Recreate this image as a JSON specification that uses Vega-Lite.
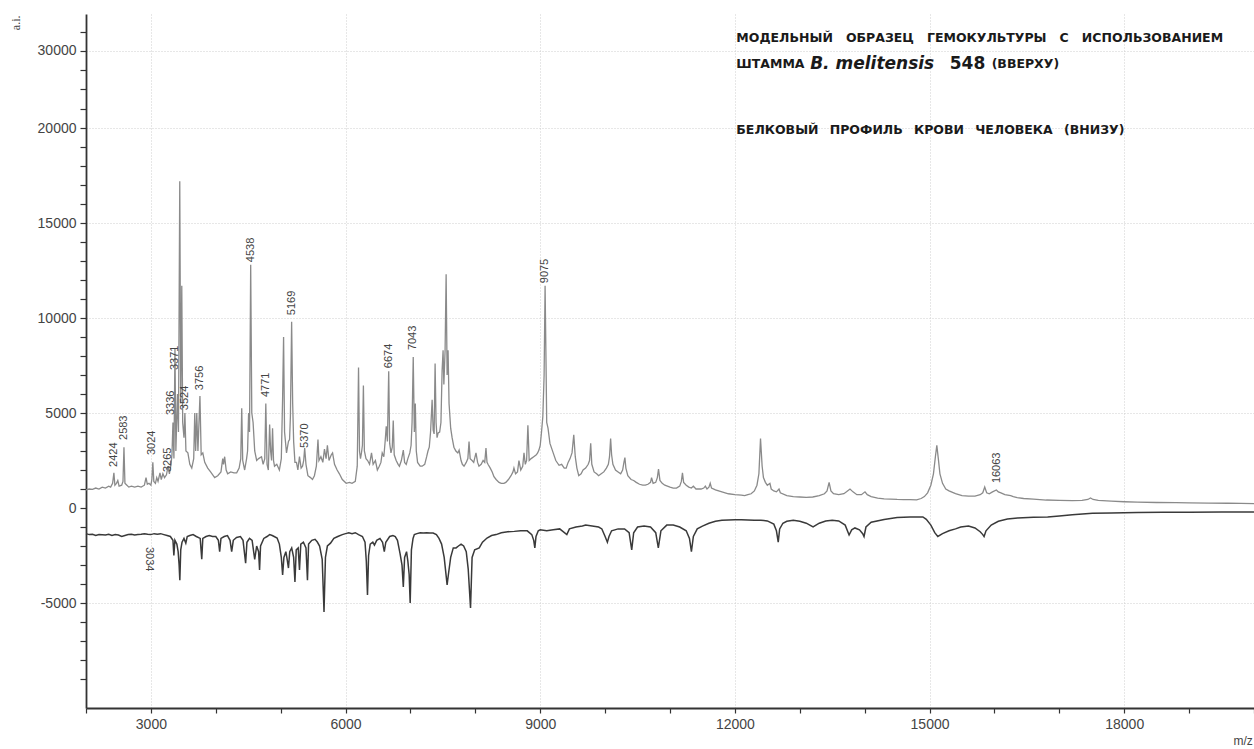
{
"$schema": "https://vega.github.io/schema/vega-lite/v6.json",
"width": 1168, "height": 694,
"autosize": {"type": "none"},
"padding": {"left": 86, "top": 14, "right": 0, "bottom": 41},
"background": "white",
"config": {"view": {"stroke": null}, "font": "Liberation Sans"},
"datasets": {
"top": [
{"mz":2000,"v":950},{"mz":2050,"v":1000},{"mz":2100,"v":980},{"mz":2150,"v":1050},{"mz":2200,"v":1000},{"mz":2250,"v":1100},{"mz":2300,"v":1050},{"mz":2350,"v":1150},{"mz":2380,"v":1100},{"mz":2410,"v":1300},{"mz":2430,"v":1850},{"mz":2445,"v":1200},{"mz":2470,"v":1300},{"mz":2490,"v":1450},{"mz":2510,"v":1150},{"mz":2550,"v":1200},{"mz":2570,"v":1400},{"mz":2585,"v":3200},{"mz":2600,"v":1300},{"mz":2615,"v":1250},{"mz":2660,"v":1100},{"mz":2700,"v":1150},{"mz":2750,"v":1100},{"mz":2800,"v":1150},{"mz":2850,"v":1100},{"mz":2900,"v":1200},{"mz":2925,"v":1600},{"mz":2945,"v":1250},{"mz":2970,"v":1300},{"mz":3000,"v":1200},{"mz":3015,"v":1500},{"mz":3030,"v":2400},{"mz":3045,"v":1400},{"mz":3070,"v":1300},{"mz":3090,"v":1600},{"mz":3110,"v":1400},{"mz":3140,"v":1850},{"mz":3160,"v":1500},{"mz":3185,"v":1800},{"mz":3210,"v":1600},{"mz":3240,"v":1750},{"mz":3265,"v":2200},{"mz":3285,"v":1800},{"mz":3310,"v":2300},{"mz":3325,"v":2800},{"mz":3340,"v":4500},{"mz":3355,"v":2600},{"mz":3371,"v":8400},{"mz":3385,"v":3000},{"mz":3410,"v":6000},{"mz":3425,"v":4000},{"mz":3445,"v":17200},{"mz":3460,"v":5500},{"mz":3476,"v":11700},{"mz":3490,"v":4500},{"mz":3510,"v":3700},{"mz":3524,"v":5000},{"mz":3540,"v":3000},{"mz":3570,"v":2900},{"mz":3600,"v":2300},{"mz":3630,"v":2100},{"mz":3660,"v":2600},{"mz":3676,"v":5000},{"mz":3690,"v":3000},{"mz":3707,"v":5000},{"mz":3725,"v":3000},{"mz":3756,"v":5900},{"mz":3775,"v":2800},{"mz":3800,"v":2900},{"mz":3830,"v":2400},{"mz":3876,"v":2100},{"mz":3920,"v":1900},{"mz":3983,"v":1600},{"mz":4030,"v":1700},{"mz":4080,"v":1900},{"mz":4107,"v":2600},{"mz":4120,"v":2300},{"mz":4137,"v":2700},{"mz":4160,"v":2000},{"mz":4183,"v":1800},{"mz":4230,"v":1900},{"mz":4280,"v":1850},{"mz":4322,"v":1850},{"mz":4360,"v":2100},{"mz":4385,"v":2600},{"mz":4400,"v":5250},{"mz":4415,"v":2500},{"mz":4445,"v":2000},{"mz":4475,"v":2600},{"mz":4490,"v":3000},{"mz":4506,"v":5000},{"mz":4520,"v":4000},{"mz":4538,"v":12800},{"mz":4555,"v":5000},{"mz":4575,"v":4500},{"mz":4600,"v":3000},{"mz":4630,"v":2500},{"mz":4660,"v":2600},{"mz":4705,"v":2700},{"mz":4730,"v":2300},{"mz":4755,"v":2600},{"mz":4771,"v":5500},{"mz":4790,"v":2300},{"mz":4810,"v":2000},{"mz":4830,"v":4400},{"mz":4845,"v":3000},{"mz":4860,"v":2500},{"mz":4875,"v":4200},{"mz":4890,"v":2500},{"mz":4905,"v":2200},{"mz":4940,"v":2300},{"mz":4980,"v":2000},{"mz":5010,"v":2600},{"mz":5030,"v":5800},{"mz":5045,"v":9000},{"mz":5060,"v":4000},{"mz":5090,"v":2900},{"mz":5120,"v":3500},{"mz":5137,"v":3600},{"mz":5150,"v":4800},{"mz":5169,"v":9800},{"mz":5185,"v":5500},{"mz":5200,"v":3500},{"mz":5220,"v":2400},{"mz":5244,"v":2400},{"mz":5265,"v":2000},{"mz":5290,"v":2700},{"mz":5315,"v":2100},{"mz":5337,"v":2200},{"mz":5355,"v":2500},{"mz":5370,"v":3150},{"mz":5390,"v":2300},{"mz":5420,"v":1700},{"mz":5460,"v":1600},{"mz":5490,"v":1500},{"mz":5520,"v":1700},{"mz":5550,"v":2200},{"mz":5575,"v":3600},{"mz":5590,"v":2500},{"mz":5620,"v":2700},{"mz":5650,"v":2400},{"mz":5675,"v":3100},{"mz":5700,"v":2600},{"mz":5720,"v":3300},{"mz":5745,"v":2500},{"mz":5780,"v":2800},{"mz":5800,"v":2900},{"mz":5830,"v":2300},{"mz":5870,"v":2000},{"mz":5905,"v":1800},{"mz":5950,"v":1500},{"mz":6010,"v":1300},{"mz":6060,"v":1350},{"mz":6100,"v":1300},{"mz":6150,"v":1400},{"mz":6180,"v":2200},{"mz":6200,"v":7400},{"mz":6215,"v":3000},{"mz":6230,"v":2600},{"mz":6245,"v":2900},{"mz":6260,"v":3300},{"mz":6275,"v":6450},{"mz":6290,"v":3000},{"mz":6315,"v":2600},{"mz":6340,"v":2500},{"mz":6370,"v":2300},{"mz":6400,"v":2900},{"mz":6425,"v":2300},{"mz":6460,"v":2500},{"mz":6490,"v":2000},{"mz":6520,"v":2200},{"mz":6545,"v":2400},{"mz":6565,"v":2900},{"mz":6590,"v":2700},{"mz":6610,"v":3500},{"mz":6627,"v":4300},{"mz":6645,"v":3500},{"mz":6665,"v":7200},{"mz":6680,"v":3400},{"mz":6700,"v":2900},{"mz":6720,"v":3200},{"mz":6735,"v":4600},{"mz":6750,"v":2800},{"mz":6780,"v":2500},{"mz":6810,"v":2300},{"mz":6830,"v":2200},{"mz":6860,"v":2500},{"mz":6890,"v":3050},{"mz":6910,"v":2400},{"mz":6935,"v":2300},{"mz":6960,"v":2600},{"mz":6990,"v":2900},{"mz":7010,"v":3300},{"mz":7025,"v":4500},{"mz":7043,"v":7950},{"mz":7060,"v":4000},{"mz":7075,"v":5500},{"mz":7090,"v":3000},{"mz":7110,"v":2400},{"mz":7150,"v":2200},{"mz":7180,"v":2200},{"mz":7220,"v":2300},{"mz":7250,"v":2700},{"mz":7270,"v":3000},{"mz":7290,"v":3200},{"mz":7310,"v":4000},{"mz":7334,"v":5700},{"mz":7350,"v":4100},{"mz":7365,"v":3900},{"mz":7380,"v":7600},{"mz":7395,"v":4500},{"mz":7410,"v":3700},{"mz":7427,"v":3950},{"mz":7450,"v":4000},{"mz":7470,"v":4500},{"mz":7488,"v":7250},{"mz":7503,"v":8300},{"mz":7515,"v":6500},{"mz":7534,"v":8300},{"mz":7550,"v":12300},{"mz":7565,"v":7000},{"mz":7580,"v":8300},{"mz":7595,"v":5500},{"mz":7620,"v":4200},{"mz":7642,"v":3700},{"mz":7670,"v":3200},{"mz":7700,"v":3000},{"mz":7730,"v":2900},{"mz":7750,"v":3050},{"mz":7780,"v":2500},{"mz":7800,"v":2300},{"mz":7826,"v":2200},{"mz":7860,"v":2400},{"mz":7885,"v":2600},{"mz":7903,"v":3500},{"mz":7920,"v":2600},{"mz":7950,"v":2500},{"mz":7975,"v":2400},{"mz":8010,"v":2900},{"mz":8035,"v":2400},{"mz":8056,"v":2200},{"mz":8090,"v":2300},{"mz":8120,"v":2500},{"mz":8145,"v":2400},{"mz":8164,"v":3150},{"mz":8180,"v":2400},{"mz":8195,"v":2300},{"mz":8230,"v":2100},{"mz":8260,"v":1900},{"mz":8287,"v":1650},{"mz":8320,"v":1500},{"mz":8365,"v":1350},{"mz":8400,"v":1300},{"mz":8440,"v":1300},{"mz":8470,"v":1350},{"mz":8510,"v":1500},{"mz":8550,"v":1700},{"mz":8580,"v":1900},{"mz":8595,"v":2100},{"mz":8620,"v":1800},{"mz":8650,"v":1900},{"mz":8672,"v":2500},{"mz":8700,"v":2000},{"mz":8730,"v":2200},{"mz":8750,"v":2900},{"mz":8770,"v":2300},{"mz":8790,"v":2500},{"mz":8810,"v":4350},{"mz":8830,"v":2500},{"mz":8860,"v":2600},{"mz":8900,"v":2700},{"mz":8940,"v":2800},{"mz":8960,"v":2900},{"mz":8980,"v":3050},{"mz":9000,"v":3300},{"mz":9020,"v":4000},{"mz":9040,"v":4800},{"mz":9060,"v":7000},{"mz":9075,"v":11700},{"mz":9090,"v":7500},{"mz":9100,"v":4500},{"mz":9120,"v":4200},{"mz":9150,"v":3400},{"mz":9200,"v":2900},{"mz":9240,"v":2500},{"mz":9290,"v":2250},{"mz":9330,"v":2300},{"mz":9370,"v":2100},{"mz":9400,"v":2100},{"mz":9430,"v":2400},{"mz":9460,"v":2600},{"mz":9490,"v":2900},{"mz":9517,"v":3850},{"mz":9540,"v":2700},{"mz":9565,"v":2100},{"mz":9594,"v":1700},{"mz":9630,"v":1800},{"mz":9660,"v":2000},{"mz":9700,"v":2100},{"mz":9740,"v":2300},{"mz":9760,"v":2500},{"mz":9778,"v":3400},{"mz":9795,"v":2300},{"mz":9830,"v":1900},{"mz":9870,"v":1800},{"mz":9900,"v":1700},{"mz":9940,"v":1800},{"mz":9980,"v":1900},{"mz":10020,"v":2100},{"mz":10050,"v":2300},{"mz":10068,"v":2700},{"mz":10085,"v":3650},{"mz":10100,"v":2800},{"mz":10120,"v":2300},{"mz":10160,"v":2000},{"mz":10200,"v":1900},{"mz":10240,"v":1800},{"mz":10270,"v":2000},{"mz":10290,"v":2400},{"mz":10305,"v":2650},{"mz":10320,"v":2100},{"mz":10350,"v":1700},{"mz":10400,"v":1500},{"mz":10440,"v":1450},{"mz":10480,"v":1350},{"mz":10530,"v":1250},{"mz":10580,"v":1200},{"mz":10620,"v":1200},{"mz":10660,"v":1250},{"mz":10700,"v":1350},{"mz":10716,"v":1600},{"mz":10740,"v":1300},{"mz":10780,"v":1350},{"mz":10805,"v":1600},{"mz":10823,"v":2050},{"mz":10845,"v":1450},{"mz":10880,"v":1300},{"mz":10920,"v":1200},{"mz":10960,"v":1150},{"mz":11000,"v":1100},{"mz":11050,"v":1050},{"mz":11100,"v":1050},{"mz":11150,"v":1150},{"mz":11175,"v":1400},{"mz":11192,"v":1850},{"mz":11210,"v":1350},{"mz":11250,"v":1200},{"mz":11290,"v":1100},{"mz":11330,"v":1050},{"mz":11360,"v":1150},{"mz":11400,"v":1000},{"mz":11440,"v":1000},{"mz":11480,"v":1000},{"mz":11520,"v":1050},{"mz":11545,"v":1150},{"mz":11570,"v":1000},{"mz":11600,"v":1100},{"mz":11620,"v":1300},{"mz":11640,"v":1050},{"mz":11700,"v":950},{"mz":11800,"v":850},{"mz":11900,"v":750},{"mz":12000,"v":700},{"mz":12100,"v":680},{"mz":12150,"v":650},{"mz":12200,"v":700},{"mz":12250,"v":750},{"mz":12300,"v":900},{"mz":12340,"v":1200},{"mz":12370,"v":1800},{"mz":12395,"v":3650},{"mz":12420,"v":2200},{"mz":12440,"v":1600},{"mz":12470,"v":1350},{"mz":12500,"v":1200},{"mz":12540,"v":1300},{"mz":12560,"v":1000},{"mz":12600,"v":900},{"mz":12640,"v":850},{"mz":12680,"v":1000},{"mz":12700,"v":800},{"mz":12800,"v":650},{"mz":12900,"v":600},{"mz":13000,"v":580},{"mz":13100,"v":560},{"mz":13200,"v":580},{"mz":13300,"v":650},{"mz":13380,"v":750},{"mz":13420,"v":900},{"mz":13452,"v":1350},{"mz":13480,"v":900},{"mz":13520,"v":750},{"mz":13600,"v":700},{"mz":13680,"v":750},{"mz":13720,"v":850},{"mz":13774,"v":1000},{"mz":13820,"v":850},{"mz":13880,"v":700},{"mz":13950,"v":700},{"mz":14005,"v":850},{"mz":14040,"v":700},{"mz":14100,"v":600},{"mz":14200,"v":520},{"mz":14300,"v":480},{"mz":14400,"v":470},{"mz":14500,"v":450},{"mz":14600,"v":440},{"mz":14700,"v":440},{"mz":14800,"v":430},{"mz":14870,"v":500},{"mz":14920,"v":600},{"mz":14970,"v":800},{"mz":15020,"v":1200},{"mz":15060,"v":1800},{"mz":15090,"v":2700},{"mz":15112,"v":3300},{"mz":15135,"v":2600},{"mz":15160,"v":1800},{"mz":15200,"v":1300},{"mz":15250,"v":1000},{"mz":15300,"v":900},{"mz":15400,"v":760},{"mz":15500,"v":650},{"mz":15600,"v":620},{"mz":15700,"v":630},{"mz":15780,"v":700},{"mz":15820,"v":800},{"mz":15850,"v":1100},{"mz":15880,"v":800},{"mz":15920,"v":750},{"mz":15970,"v":850},{"mz":16030,"v":950},{"mz":16060,"v":850},{"mz":16100,"v":800},{"mz":16160,"v":700},{"mz":16250,"v":650},{"mz":16290,"v":600},{"mz":16350,"v":550},{"mz":16450,"v":500},{"mz":16600,"v":470},{"mz":16800,"v":420},{"mz":17000,"v":400},{"mz":17200,"v":390},{"mz":17350,"v":400},{"mz":17440,"v":450},{"mz":17480,"v":530},{"mz":17520,"v":450},{"mz":17600,"v":400},{"mz":17800,"v":360},{"mz":18000,"v":330},{"mz":18200,"v":310},{"mz":18500,"v":290},{"mz":18800,"v":280},{"mz":19000,"v":270},{"mz":19300,"v":260},{"mz":19600,"v":250},{"mz":19800,"v":240},{"mz":20000,"v":230}
],
"bottom": [
{"mz":2000,"v":-1350},{"mz":2050,"v":-1400},{"mz":2100,"v":-1380},{"mz":2150,"v":-1450},{"mz":2200,"v":-1400},{"mz":2300,"v":-1420},{"mz":2350,"v":-1380},{"mz":2400,"v":-1450},{"mz":2450,"v":-1400},{"mz":2500,"v":-1420},{"mz":2550,"v":-1500},{"mz":2600,"v":-1450},{"mz":2650,"v":-1400},{"mz":2700,"v":-1380},{"mz":2750,"v":-1420},{"mz":2800,"v":-1400},{"mz":2850,"v":-1380},{"mz":2900,"v":-1350},{"mz":2950,"v":-1380},{"mz":3000,"v":-1400},{"mz":3050,"v":-1350},{"mz":3100,"v":-1380},{"mz":3150,"v":-1350},{"mz":3200,"v":-1400},{"mz":3250,"v":-1450},{"mz":3300,"v":-1500},{"mz":3340,"v":-1700},{"mz":3354,"v":-2500},{"mz":3370,"v":-1700},{"mz":3400,"v":-1900},{"mz":3420,"v":-2300},{"mz":3435,"v":-3000},{"mz":3446,"v":-3800},{"mz":3460,"v":-2200},{"mz":3480,"v":-1800},{"mz":3510,"v":-1600},{"mz":3538,"v":-1850},{"mz":3560,"v":-1500},{"mz":3600,"v":-1450},{"mz":3650,"v":-1400},{"mz":3700,"v":-1500},{"mz":3760,"v":-1600},{"mz":3784,"v":-2700},{"mz":3800,"v":-1600},{"mz":3850,"v":-1500},{"mz":3900,"v":-1450},{"mz":3950,"v":-1500},{"mz":4000,"v":-1500},{"mz":4040,"v":-1700},{"mz":4060,"v":-2300},{"mz":4080,"v":-1600},{"mz":4130,"v":-1500},{"mz":4180,"v":-1450},{"mz":4220,"v":-1700},{"mz":4245,"v":-2300},{"mz":4270,"v":-1700},{"mz":4320,"v":-1550},{"mz":4380,"v":-1500},{"mz":4420,"v":-1700},{"mz":4460,"v":-2900},{"mz":4480,"v":-1800},{"mz":4520,"v":-1600},{"mz":4560,"v":-1700},{"mz":4600,"v":-2700},{"mz":4630,"v":-2000},{"mz":4660,"v":-2300},{"mz":4675,"v":-3260},{"mz":4690,"v":-2000},{"mz":4740,"v":-1600},{"mz":4790,"v":-1500},{"mz":4830,"v":-1400},{"mz":4870,"v":-1450},{"mz":4900,"v":-1500},{"mz":4945,"v":-1580},{"mz":4980,"v":-1900},{"mz":5010,"v":-2600},{"mz":5030,"v":-3520},{"mz":5050,"v":-2600},{"mz":5080,"v":-2300},{"mz":5100,"v":-2700},{"mz":5120,"v":-3160},{"mz":5140,"v":-2300},{"mz":5170,"v":-2100},{"mz":5200,"v":-2600},{"mz":5220,"v":-3890},{"mz":5240,"v":-2200},{"mz":5270,"v":-2100},{"mz":5290,"v":-3260},{"mz":5310,"v":-1900},{"mz":5350,"v":-1800},{"mz":5390,"v":-2100},{"mz":5413,"v":-3800},{"mz":5430,"v":-1900},{"mz":5480,"v":-1700},{"mz":5530,"v":-1650},{"mz":5565,"v":-1790},{"mz":5600,"v":-2000},{"mz":5640,"v":-2700},{"mz":5668,"v":-5470},{"mz":5690,"v":-2600},{"mz":5720,"v":-2000},{"mz":5768,"v":-1850},{"mz":5820,"v":-1600},{"mz":5880,"v":-1500},{"mz":5950,"v":-1400},{"mz":6000,"v":-1350},{"mz":6050,"v":-1300},{"mz":6100,"v":-1350},{"mz":6150,"v":-1300},{"mz":6200,"v":-1400},{"mz":6260,"v":-1500},{"mz":6300,"v":-1800},{"mz":6320,"v":-2800},{"mz":6338,"v":-4580},{"mz":6355,"v":-2500},{"mz":6380,"v":-1900},{"mz":6420,"v":-1800},{"mz":6445,"v":-1950},{"mz":6480,"v":-1700},{"mz":6530,"v":-1600},{"mz":6570,"v":-1800},{"mz":6597,"v":-2300},{"mz":6620,"v":-1800},{"mz":6680,"v":-1500},{"mz":6730,"v":-1450},{"mz":6766,"v":-1500},{"mz":6800,"v":-1700},{"mz":6840,"v":-2400},{"mz":6870,"v":-3000},{"mz":6890,"v":-4150},{"mz":6910,"v":-2600},{"mz":6940,"v":-2300},{"mz":6960,"v":-2800},{"mz":6980,"v":-3500},{"mz":6996,"v":-5000},{"mz":7015,"v":-2200},{"mz":7040,"v":-1600},{"mz":7060,"v":-1400},{"mz":7100,"v":-1350},{"mz":7150,"v":-1300},{"mz":7200,"v":-1320},{"mz":7250,"v":-1300},{"mz":7300,"v":-1320},{"mz":7350,"v":-1320},{"mz":7400,"v":-1400},{"mz":7440,"v":-1600},{"mz":7480,"v":-1900},{"mz":7520,"v":-2600},{"mz":7545,"v":-3400},{"mz":7565,"v":-4050},{"mz":7585,"v":-3500},{"mz":7620,"v":-2600},{"mz":7660,"v":-2100},{"mz":7703,"v":-2100},{"mz":7740,"v":-2000},{"mz":7780,"v":-1900},{"mz":7820,"v":-2000},{"mz":7860,"v":-2300},{"mz":7890,"v":-3200},{"mz":7926,"v":-5260},{"mz":7950,"v":-2600},{"mz":7990,"v":-2200},{"mz":8060,"v":-2100},{"mz":8110,"v":-1800},{"mz":8180,"v":-1580},{"mz":8250,"v":-1450},{"mz":8320,"v":-1400},{"mz":8400,"v":-1300},{"mz":8500,"v":-1250},{"mz":8600,"v":-1230},{"mz":8700,"v":-1200},{"mz":8800,"v":-1200},{"mz":8870,"v":-1400},{"mz":8900,"v":-1700},{"mz":8917,"v":-2100},{"mz":8935,"v":-1500},{"mz":8970,"v":-1200},{"mz":9000,"v":-1150},{"mz":9100,"v":-1200},{"mz":9200,"v":-1150},{"mz":9300,"v":-1100},{"mz":9410,"v":-1400},{"mz":9450,"v":-1100},{"mz":9550,"v":-1000},{"mz":9650,"v":-950},{"mz":9700,"v":-900},{"mz":9800,"v":-950},{"mz":9900,"v":-1000},{"mz":9950,"v":-1100},{"mz":10000,"v":-1500},{"mz":10035,"v":-1800},{"mz":10060,"v":-1500},{"mz":10100,"v":-1200},{"mz":10200,"v":-1100},{"mz":10300,"v":-1100},{"mz":10370,"v":-1300},{"mz":10410,"v":-2200},{"mz":10440,"v":-1300},{"mz":10500,"v":-1000},{"mz":10600,"v":-950},{"mz":10700,"v":-1000},{"mz":10780,"v":-1300},{"mz":10820,"v":-2100},{"mz":10860,"v":-1200},{"mz":10950,"v":-900},{"mz":11050,"v":-900},{"mz":11150,"v":-1000},{"mz":11250,"v":-1200},{"mz":11300,"v":-1600},{"mz":11330,"v":-2300},{"mz":11360,"v":-1500},{"mz":11420,"v":-1100},{"mz":11500,"v":-950},{"mz":11600,"v":-800},{"mz":11700,"v":-700},{"mz":11800,"v":-650},{"mz":11900,"v":-630},{"mz":12000,"v":-620},{"mz":12100,"v":-620},{"mz":12200,"v":-630},{"mz":12300,"v":-640},{"mz":12400,"v":-640},{"mz":12500,"v":-680},{"mz":12600,"v":-850},{"mz":12640,"v":-1200},{"mz":12668,"v":-1800},{"mz":12690,"v":-1100},{"mz":12740,"v":-800},{"mz":12800,"v":-700},{"mz":12900,"v":-650},{"mz":13000,"v":-700},{"mz":13100,"v":-800},{"mz":13205,"v":-1000},{"mz":13300,"v":-800},{"mz":13400,"v":-680},{"mz":13500,"v":-640},{"mz":13600,"v":-680},{"mz":13700,"v":-900},{"mz":13760,"v":-1420},{"mz":13800,"v":-1150},{"mz":13850,"v":-1050},{"mz":13920,"v":-1150},{"mz":13970,"v":-1350},{"mz":13990,"v":-1500},{"mz":14020,"v":-1000},{"mz":14100,"v":-750},{"mz":14300,"v":-600},{"mz":14500,"v":-500},{"mz":14700,"v":-480},{"mz":14897,"v":-470},{"mz":14950,"v":-600},{"mz":15020,"v":-900},{"mz":15080,"v":-1300},{"mz":15127,"v":-1500},{"mz":15200,"v":-1350},{"mz":15300,"v":-1200},{"mz":15400,"v":-1100},{"mz":15480,"v":-1000},{"mz":15600,"v":-950},{"mz":15700,"v":-1050},{"mz":15780,"v":-1250},{"mz":15820,"v":-1400},{"mz":15840,"v":-1500},{"mz":15870,"v":-1200},{"mz":15950,"v":-900},{"mz":16060,"v":-700},{"mz":16200,"v":-580},{"mz":16357,"v":-520},{"mz":16600,"v":-490},{"mz":16820,"v":-470},{"mz":17000,"v":-420},{"mz":17200,"v":-350},{"mz":17510,"v":-280},{"mz":17800,"v":-260},{"mz":18200,"v":-240},{"mz":18600,"v":-230},{"mz":19000,"v":-225},{"mz":19500,"v":-215},{"mz":20000,"v":-210}
],
"peaklabels": [
{"mz":2430,"v":2160,"label":"2424"},{"mz":2583,"v":3580,"label":"2583"},{"mz":3024,"v":2790,"label":"3024"},{"mz":3262,"v":1890,"label":"3265"},{"mz":3310,"v":4890,"label":"3336"},{"mz":3369,"v":7260,"label":"3371"},{"mz":3523,"v":5150,"label":"3524"},{"mz":3756,"v":6200,"label":"3756"},{"mz":4538,"v":12940,"label":"4538"},{"mz":4771,"v":5840,"label":"4771"},{"mz":5169,"v":10150,"label":"5169"},{"mz":5370,"v":3160,"label":"5370"},{"mz":6674,"v":7360,"label":"6674"},{"mz":7043,"v":8310,"label":"7043"},{"mz":9075,"v":11830,"label":"9075"},{"mz":16034,"v":1310,"label":"16063"}
]
},
"layer": [
{
"data": {"name": "top"},
"mark": {"type": "line", "color": "#8a8a8a", "strokeWidth": 1.3, "interpolate": "linear"},
"encoding": {
"x": {"field": "mz", "type": "quantitative",
"scale": {"domain": [2000, 20000], "nice": false, "zero": false},
"axis": {"title": "m/z", "titleFont": "Liberation Sans", "titleFontSize": 12, "titleFontWeight": "normal", "titleColor": "#444", "titleX": 1147, "titleY": 32, "titleAlign": "left", "titleBaseline": "middle", "titleAnchor": null,
"values": [2000,3000,4000,5000,6000,7000,8000,9000,10000,11000,12000,13000,14000,15000,16000,17000,18000,19000,20000],
"tickCount": 100,
"labelExpr": "datum.value % 3000 === 0 ? '' + datum.value : ''",
"labelOverlap": false,
"labelFont": "Liberation Sans", "labelFontSize": 14, "labelColor": "#444", "labelPadding": 4, "labelFlush": false,
"tickSize": 5, "tickColor": "#333", "tickWidth": 1.2,
"domainColor": "#333", "domainWidth": 1.8,
"grid": true, "gridColor": "#cfcfcf", "gridDash": [1, 2], "gridWidth": 1,
"gridOpacity": {"condition": {"test": "datum.value % 3000 !== 0", "value": 0}, "value": 1}}},
"y": {"field": "v", "type": "quantitative",
"scale": {"domain": [-10526, 20000, 34800], "range": [694, 114, 0], "nice": false, "zero": false},
"axis": {"title": "a.i.", "titleFont": "Liberation Serif", "titleFontSize": 12, "titleFontWeight": "normal", "titleColor": "#444", "titleAngle": 270, "titleX": -71, "titleY": 1, "titleAlign": "right", "titleBaseline": "middle", "titleAnchor": null,
"values": [-9000,-8000,-7000,-6000,-5000,-4000,-3000,-2000,-1000,0,1000,2000,3000,4000,5000,6000,7000,8000,9000,10000,11000,12000,13000,14000,15000,16000,17000,18000,19000,20000,22500,25000,27500,30000,32500],
"tickCount": 100,
"labelExpr": "(datum.value % 5000 === 0 && datum.value !== 25000) ? '' + datum.value : ''",
"labelOverlap": false,
"labelFont": "Liberation Sans", "labelFontSize": 14, "labelColor": "#444", "labelPadding": 4,
"tickSize": 6, "tickColor": "#333", "tickWidth": 1.2,
"domainColor": "#333", "domainWidth": 1.8,
"grid": true, "gridColor": "#cfcfcf", "gridDash": [1, 2], "gridWidth": 1,
"gridOpacity": {"condition": {"test": "datum.value % 5000 !== 0 || datum.value === 25000 || datum.value === 0", "value": 0}, "value": 1}}}
}
},
{
"mark": {"type": "rule", "color": "#8f8f8f", "strokeWidth": 1.2, "strokeDash": [4, 2]},
"encoding": {"y": {"datum": 0}}
},
{
"data": {"name": "bottom"},
"mark": {"type": "line", "color": "#3a3a3a", "strokeWidth": 1.5},
"encoding": {"x": {"field": "mz", "type": "quantitative"}, "y": {"field": "v", "type": "quantitative"}}
},
{
"data": {"name": "peaklabels"},
"mark": {"type": "text", "angle": 270, "align": "left", "baseline": "middle", "font": "Liberation Sans", "fontSize": 11, "color": "#444"},
"encoding": {"x": {"field": "mz", "type": "quantitative"}, "y": {"field": "v", "type": "quantitative"}, "text": {"field": "label"}}
},
{
"data": {"values": [{"mz": 2965, "v": -2050, "label": "3034"}]},
"mark": {"type": "text", "angle": 90, "align": "left", "baseline": "middle", "font": "Liberation Sans", "fontSize": 11, "color": "#444"},
"encoding": {"x": {"field": "mz", "type": "quantitative"}, "y": {"field": "v", "type": "quantitative"}, "text": {"field": "label"}}
},
{
"data": {"values": [
{"mz": 12022, "v": 31730, "t": "МОДЕЛЬНЫЙ \u00a0\u00a0ОБРАЗЕЦ \u00a0\u00a0ГЕМОКУЛЬТУРЫ \u00a0\u00a0С \u00a0\u00a0ИСПОЛЬЗОВАНИЕМ"},
{"mz": 12022, "v": 28314, "t": "ШТАММА"},
{"mz": 15957, "v": 28314, "t": "(ВВЕРХУ)"},
{"mz": 12022, "v": 19895, "t": "БЕЛКОВЫЙ \u00a0\u2009ПРОФИЛЬ \u00a0\u2009КРОВИ \u00a0\u2009ЧЕЛОВЕКА \u00a0\u2009(ВНИЗУ)"}
]},
"mark": {"type": "text", "align": "left", "baseline": "middle", "font": "DejaVu Sans", "fontWeight": "bold", "fontSize": 12.5, "color": "#1a1a1a"},
"encoding": {"x": {"field": "mz", "type": "quantitative"}, "y": {"field": "v", "type": "quantitative"}, "text": {"field": "t"}}
},
{
"data": {"values": [{"mz": 13160, "v": 28314, "t": "B. melitensis"}]},
"mark": {"type": "text", "align": "left", "baseline": "middle", "font": "DejaVu Sans", "fontWeight": "bold", "fontStyle": "italic", "fontSize": 17, "color": "#1a1a1a"},
"encoding": {"x": {"field": "mz", "type": "quantitative"}, "y": {"field": "v", "type": "quantitative"}, "text": {"field": "t"}}
},
{
"data": {"values": [{"mz": 15311, "v": 28314, "t": "548"}]},
"mark": {"type": "text", "align": "left", "baseline": "middle", "font": "DejaVu Sans", "fontWeight": "bold", "fontSize": 17, "color": "#1a1a1a"},
"encoding": {"x": {"field": "mz", "type": "quantitative"}, "y": {"field": "v", "type": "quantitative"}, "text": {"field": "t"}}
},
{
"mark": {"type": "rule", "color": "#333", "strokeWidth": 2},
"encoding": {"y": {"datum": 34800}}
}
]
}
